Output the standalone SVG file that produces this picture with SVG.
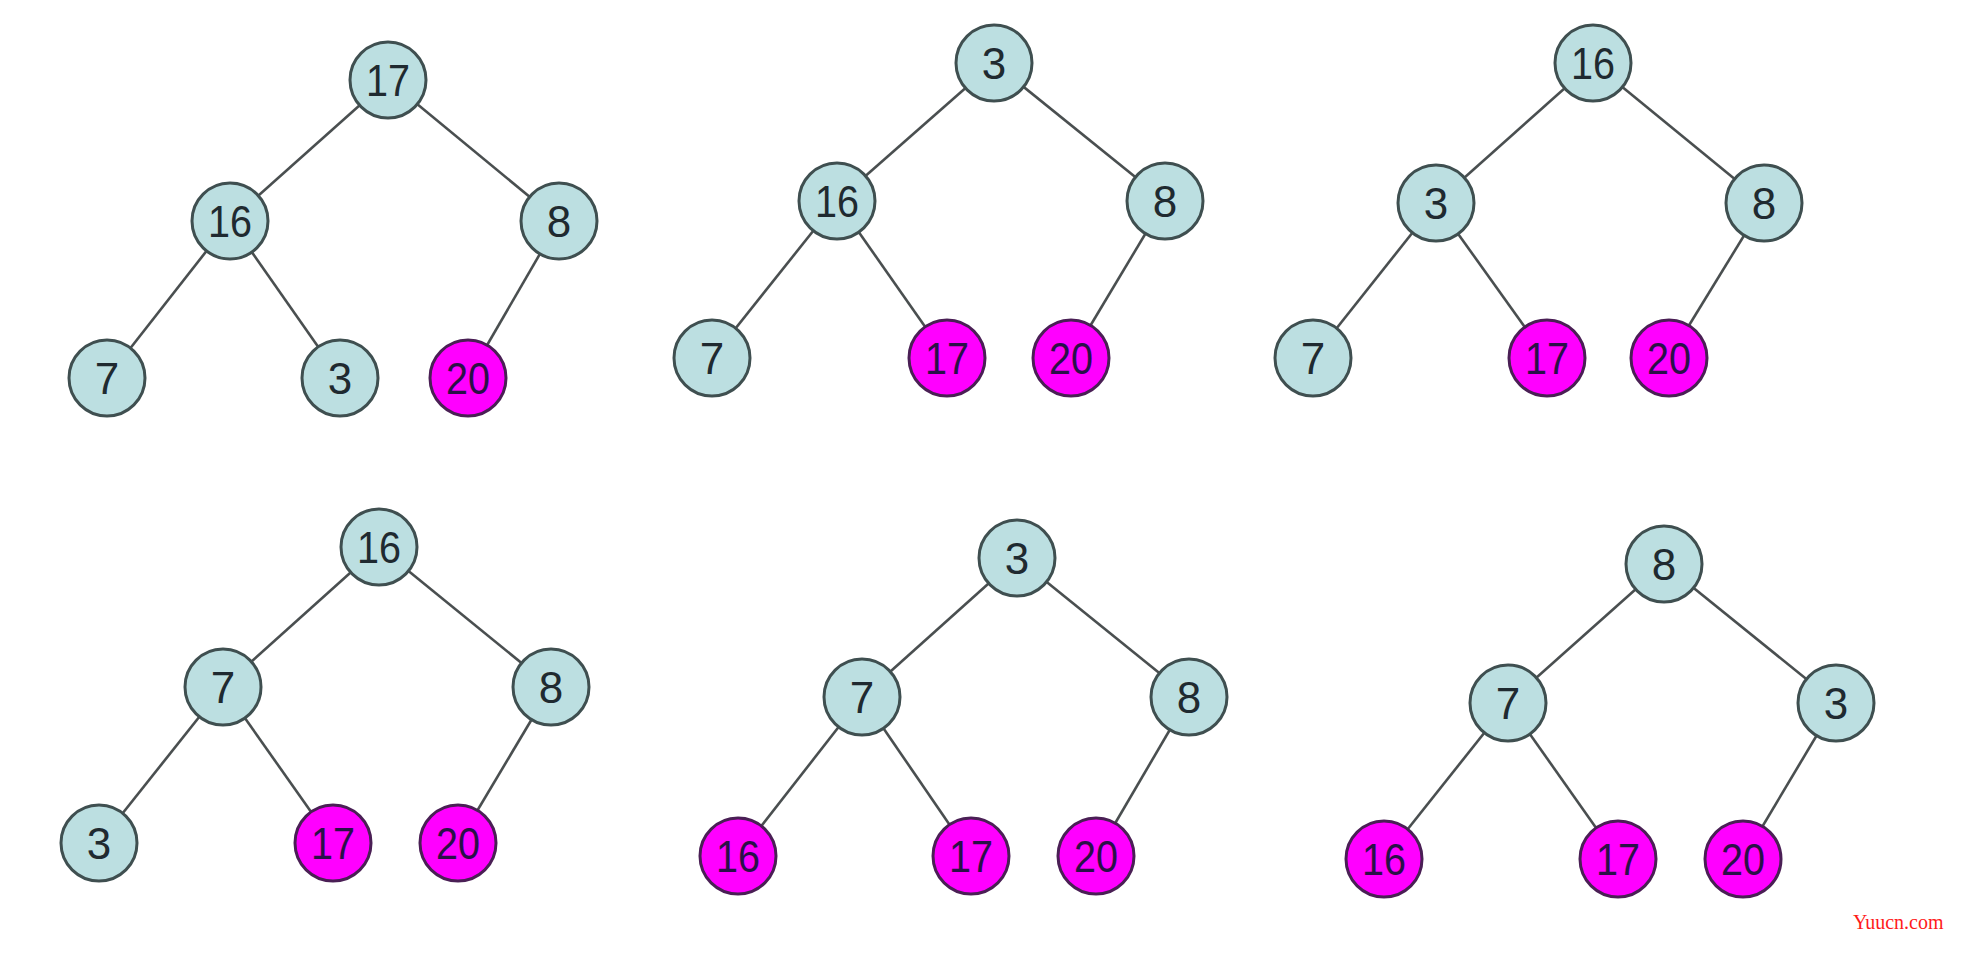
<svg xmlns="http://www.w3.org/2000/svg" width="1962" height="978" viewBox="0 0 1962 978">
<style>
.e{stroke:#4a4f50;stroke-width:2.6;fill:none}
.n circle{stroke-width:3}
.b circle{fill:#bcdfe1;stroke:#3f4f50}
.m circle{fill:#ff00ff;stroke:#4a1f55}
.n text{font-family:"Liberation Sans",Arial,sans-serif;font-size:44px;text-anchor:middle;dominant-baseline:central}
.b text{fill:#1f2a30}
.m text{fill:#2a1048}
.w{font-family:"Liberation Serif","Times New Roman",serif;font-size:20px;fill:#ff1a1a}
</style>
<rect width="1962" height="978" fill="#ffffff"/>
<g id="connectors">
<line class="e" x1="388" y1="80" x2="230" y2="221"/>
<line class="e" x1="388" y1="80" x2="559" y2="221"/>
<line class="e" x1="230" y1="221" x2="107" y2="378"/>
<line class="e" x1="230" y1="221" x2="340" y2="378"/>
<line class="e" x1="559" y1="221" x2="468" y2="378"/>
<line class="e" x1="994" y1="63" x2="837" y2="201"/>
<line class="e" x1="994" y1="63" x2="1165" y2="201"/>
<line class="e" x1="837" y1="201" x2="712" y2="358"/>
<line class="e" x1="837" y1="201" x2="947" y2="358"/>
<line class="e" x1="1165" y1="201" x2="1071" y2="358"/>
<line class="e" x1="1593" y1="63" x2="1436" y2="203"/>
<line class="e" x1="1593" y1="63" x2="1764" y2="203"/>
<line class="e" x1="1436" y1="203" x2="1313" y2="358"/>
<line class="e" x1="1436" y1="203" x2="1547" y2="358"/>
<line class="e" x1="1764" y1="203" x2="1669" y2="358"/>
<line class="e" x1="379" y1="547" x2="223" y2="687"/>
<line class="e" x1="379" y1="547" x2="551" y2="687"/>
<line class="e" x1="223" y1="687" x2="99" y2="843"/>
<line class="e" x1="223" y1="687" x2="333" y2="843"/>
<line class="e" x1="551" y1="687" x2="458" y2="843"/>
<line class="e" x1="1017" y1="558" x2="862" y2="697"/>
<line class="e" x1="1017" y1="558" x2="1189" y2="697"/>
<line class="e" x1="862" y1="697" x2="738" y2="856"/>
<line class="e" x1="862" y1="697" x2="971" y2="856"/>
<line class="e" x1="1189" y1="697" x2="1096" y2="856"/>
<line class="e" x1="1664" y1="564" x2="1508" y2="703"/>
<line class="e" x1="1664" y1="564" x2="1836" y2="703"/>
<line class="e" x1="1508" y1="703" x2="1384" y2="859"/>
<line class="e" x1="1508" y1="703" x2="1618" y2="859"/>
<line class="e" x1="1836" y1="703" x2="1743" y2="859"/>
</g>
<g id="t1-17" class="n b"><circle cx="388" cy="80" r="38"/><text x="388" y="80" textLength="44" lengthAdjust="spacingAndGlyphs">17</text></g>
<g id="t1-16" class="n b"><circle cx="230" cy="221" r="38"/><text x="230" y="221" textLength="44" lengthAdjust="spacingAndGlyphs">16</text></g>
<g id="t1-8" class="n b"><circle cx="559" cy="221" r="38"/><text x="559" y="221">8</text></g>
<g id="t1-7" class="n b"><circle cx="107" cy="378" r="38"/><text x="107" y="378">7</text></g>
<g id="t1-3" class="n b"><circle cx="340" cy="378" r="38"/><text x="340" y="378">3</text></g>
<g id="t1-20" class="n m"><circle cx="468" cy="378" r="38"/><text x="468" y="378" textLength="44" lengthAdjust="spacingAndGlyphs">20</text></g>

<g id="t2-3" class="n b"><circle cx="994" cy="63" r="38"/><text x="994" y="63">3</text></g>
<g id="t2-16" class="n b"><circle cx="837" cy="201" r="38"/><text x="837" y="201" textLength="44" lengthAdjust="spacingAndGlyphs">16</text></g>
<g id="t2-8" class="n b"><circle cx="1165" cy="201" r="38"/><text x="1165" y="201">8</text></g>
<g id="t2-7" class="n b"><circle cx="712" cy="358" r="38"/><text x="712" y="358">7</text></g>
<g id="t2-17" class="n m"><circle cx="947" cy="358" r="38"/><text x="947" y="358" textLength="44" lengthAdjust="spacingAndGlyphs">17</text></g>
<g id="t2-20" class="n m"><circle cx="1071" cy="358" r="38"/><text x="1071" y="358" textLength="44" lengthAdjust="spacingAndGlyphs">20</text></g>

<g id="t3-16" class="n b"><circle cx="1593" cy="63" r="38"/><text x="1593" y="63" textLength="44" lengthAdjust="spacingAndGlyphs">16</text></g>
<g id="t3-3" class="n b"><circle cx="1436" cy="203" r="38"/><text x="1436" y="203">3</text></g>
<g id="t3-8" class="n b"><circle cx="1764" cy="203" r="38"/><text x="1764" y="203">8</text></g>
<g id="t3-7" class="n b"><circle cx="1313" cy="358" r="38"/><text x="1313" y="358">7</text></g>
<g id="t3-17" class="n m"><circle cx="1547" cy="358" r="38"/><text x="1547" y="358" textLength="44" lengthAdjust="spacingAndGlyphs">17</text></g>
<g id="t3-20" class="n m"><circle cx="1669" cy="358" r="38"/><text x="1669" y="358" textLength="44" lengthAdjust="spacingAndGlyphs">20</text></g>

<g id="t4-16" class="n b"><circle cx="379" cy="547" r="38"/><text x="379" y="547" textLength="44" lengthAdjust="spacingAndGlyphs">16</text></g>
<g id="t4-7" class="n b"><circle cx="223" cy="687" r="38"/><text x="223" y="687">7</text></g>
<g id="t4-8" class="n b"><circle cx="551" cy="687" r="38"/><text x="551" y="687">8</text></g>
<g id="t4-3" class="n b"><circle cx="99" cy="843" r="38"/><text x="99" y="843">3</text></g>
<g id="t4-17" class="n m"><circle cx="333" cy="843" r="38"/><text x="333" y="843" textLength="44" lengthAdjust="spacingAndGlyphs">17</text></g>
<g id="t4-20" class="n m"><circle cx="458" cy="843" r="38"/><text x="458" y="843" textLength="44" lengthAdjust="spacingAndGlyphs">20</text></g>

<g id="t5-3" class="n b"><circle cx="1017" cy="558" r="38"/><text x="1017" y="558">3</text></g>
<g id="t5-7" class="n b"><circle cx="862" cy="697" r="38"/><text x="862" y="697">7</text></g>
<g id="t5-8" class="n b"><circle cx="1189" cy="697" r="38"/><text x="1189" y="697">8</text></g>
<g id="t5-16" class="n m"><circle cx="738" cy="856" r="38"/><text x="738" y="856" textLength="44" lengthAdjust="spacingAndGlyphs">16</text></g>
<g id="t5-17" class="n m"><circle cx="971" cy="856" r="38"/><text x="971" y="856" textLength="44" lengthAdjust="spacingAndGlyphs">17</text></g>
<g id="t5-20" class="n m"><circle cx="1096" cy="856" r="38"/><text x="1096" y="856" textLength="44" lengthAdjust="spacingAndGlyphs">20</text></g>

<g id="t6-8" class="n b"><circle cx="1664" cy="564" r="38"/><text x="1664" y="564">8</text></g>
<g id="t6-7" class="n b"><circle cx="1508" cy="703" r="38"/><text x="1508" y="703">7</text></g>
<g id="t6-3" class="n b"><circle cx="1836" cy="703" r="38"/><text x="1836" y="703">3</text></g>
<g id="t6-16" class="n m"><circle cx="1384" cy="859" r="38"/><text x="1384" y="859" textLength="44" lengthAdjust="spacingAndGlyphs">16</text></g>
<g id="t6-17" class="n m"><circle cx="1618" cy="859" r="38"/><text x="1618" y="859" textLength="44" lengthAdjust="spacingAndGlyphs">17</text></g>
<g id="t6-20" class="n m"><circle cx="1743" cy="859" r="38"/><text x="1743" y="859" textLength="44" lengthAdjust="spacingAndGlyphs">20</text></g>

<text class="w" x="1853" y="929">Yuucn.com</text>
</svg>
